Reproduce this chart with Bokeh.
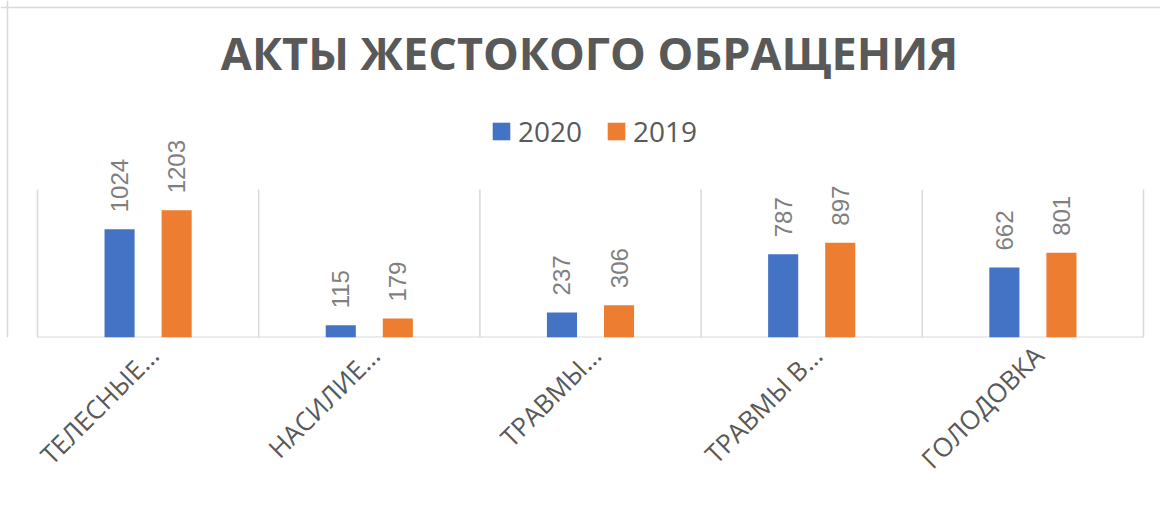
import math
from bokeh.plotting import figure
from bokeh.models import (ColumnDataSource, FixedTicker, Legend, LegendItem,
                          Label, Span)
from bokeh.core.properties import value
from bokeh.embed import file_html
from bokeh.resources import INLINE

# ---- data ----
categories = ["ТЕЛЕСНЫЕ…", "НАСИЛИЕ…", "ТРАВМЫ…", "ТРАВМЫ В…", "ГОЛОДОВКА"]
series_names = ["2020", "2019"]
values_2020 = [1024, 115, 237, 787, 662]
values_2019 = [1203, 179, 306, 897, 801]
title_text = "АКТЫ ЖЕСТОКОГО ОБРАЩЕНИЯ"
y_axis_max = 1400

BLUE = "#4472C4"
ORANGE = "#ED7D31"
TEXT = "#595959"
GRID = "#d9d9d9"

W, H = 1160, 512
PLOT_L, PLOT_R = 37, 1143      # plot area in figure pixels
PLOT_TOP, BASE = 189, 337
EDGE = 7                       # chart outline position

n = len(categories)
ux = (PLOT_R - PLOT_L) / n
uy = (BASE - PLOT_TOP) / y_axis_max
centers = [i + 0.5 for i in range(n)]
off = 0.129
bw = 0.136

src20 = ColumnDataSource(dict(x=[c - off for c in centers], top=values_2020,
                              lbl=[str(v) for v in values_2020]))
src19 = ColumnDataSource(dict(x=[c + off for c in centers], top=values_2019,
                              lbl=[str(v) for v in values_2019]))

x_start = -PLOT_L / ux
y_end = BASE / uy
p = figure(width=W, height=H, output_backend="svg", toolbar_location=None,
           x_range=(x_start, n + (W - PLOT_R) / ux),
           y_range=(0, y_end), y_axis_location=None,
           min_border_left=0, min_border_right=0, min_border_top=0,
           min_border_bottom=H - BASE)
p.outline_line_color = None
p.background_fill_color = "white"
p.border_fill_color = "white"
p.xgrid.visible = False
p.ygrid.visible = False

# chart outline (left and top edges)
p.add_layout(Span(location=(EDGE - PLOT_L) / ux, dimension="height",
                  line_color=GRID, line_width=1.5))
p.add_layout(Span(location=(BASE - EDGE) / uy, dimension="width",
                  line_color=GRID, line_width=1.5))

# separators and baseline
p.segment(x0=list(range(n + 1)), x1=list(range(n + 1)), y0=[0] * (n + 1),
          y1=[y_axis_max] * (n + 1), line_color=GRID, line_width=1.5)
p.segment(x0=[0], x1=[n], y0=[0], y1=[0], line_color=GRID, line_width=2)

r20 = p.vbar(x="x", top="top", width=bw, source=src20, fill_color=BLUE, line_color=None)
r19 = p.vbar(x="x", top="top", width=bw, source=src19, fill_color=ORANGE, line_color=None)

for s in (src20, src19):
    p.text(x="x", y="top", text="lbl", source=s, angle=math.pi / 2,
           text_align="left", text_baseline="middle", y_offset=-17,
           text_font=value("Liberation Sans"), text_font_size="24px",
           text_color="#7f7f7f")

# x axis (category labels)
label_shift = 0.025
ticks = [round(c + label_shift, 3) for c in centers]
xa = p.xaxis[0]
xa.ticker = FixedTicker(ticks=ticks)
xa.major_label_overrides = {t: lab for t, lab in zip(ticks, categories)}
xa.major_label_orientation = math.pi / 4
xa.major_label_text_font = "Open Sans"
xa.major_label_text_font_size = "26px"
xa.major_label_text_color = TEXT
xa.major_tick_line_color = None
xa.minor_tick_line_color = None
xa.axis_line_color = None
xa.major_label_standoff = 7

# legend
legend = Legend(items=[LegendItem(label=series_names[0], renderers=[r20]),
                       LegendItem(label=series_names[1], renderers=[r19])],
                orientation="horizontal", location=(490, 187),
                glyph_width=22, glyph_height=22, label_standoff=6, spacing=23,
                padding=0, margin=0, border_line_color=None,
                background_fill_alpha=0,
                label_text_font="Open Sans", label_text_font_size="28px",
                label_text_color=TEXT)
p.add_layout(legend, "center")

# title
p.add_layout(Label(x=589, y=BASE - 52, x_units="screen", y_units="screen",
                   text=title_text, text_align="center", text_baseline="alphabetic",
                   text_font="Open Sans", text_font_style="bold",
                   text_font_size="45px", text_color=TEXT))

open("out.html", "w").write(file_html(p, INLINE))
